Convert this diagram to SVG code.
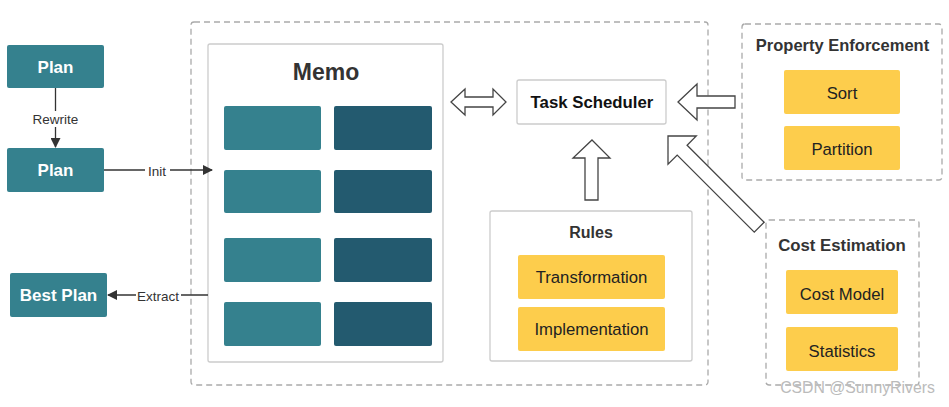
<svg xmlns="http://www.w3.org/2000/svg" width="949" height="407" viewBox="0 0 949 407">
<defs>
<style>
.plan{fill:#35818E;}
.pt{fill:#fff;font-family:"Liberation Sans",Arial,sans-serif;font-weight:bold;font-size:17px;text-anchor:middle;}
.lbl{fill:#333;font-family:"Liberation Sans",Arial,sans-serif;font-size:13.5px;text-anchor:middle;}
.dash{fill:none;stroke:#aaa;stroke-width:1.3;stroke-dasharray:6 4;}
.box{fill:#fff;stroke:#ccc;stroke-width:1.3;}
.title{fill:#333;font-family:"Liberation Sans",Arial,sans-serif;font-weight:bold;font-size:16.5px;text-anchor:middle;}
.yel{fill:#FDCD4C;}
.yt{fill:#222;font-family:"Liberation Sans",Arial,sans-serif;font-size:16.7px;text-anchor:middle;}
.c1{fill:#35818E;}
.c2{fill:#235A6F;}
.line{stroke:#333;stroke-width:1.3;fill:none;}
.blk{fill:#fff;stroke:#444;stroke-width:1.3;stroke-linejoin:miter;}
</style>
<marker id="ah" markerWidth="10" markerHeight="10" refX="9" refY="5" orient="auto" markerUnits="userSpaceOnUse">
<path d="M0,0 L10,5 L0,10 z" fill="#333"/>
</marker>
</defs>
<rect width="949" height="407" fill="#fff"/>

<rect class="dash" x="191" y="22" width="517" height="363" rx="3"/>

<g id="plan1"><rect class="plan" x="7" y="45" width="97" height="43" rx="2"/><text class="pt" x="55.5" y="72.5">Plan</text></g>
<g id="plan2"><rect class="plan" x="7" y="148" width="97" height="44" rx="2"/><text class="pt" x="55.5" y="176">Plan</text></g>
<g id="bestplan"><rect class="plan" x="10" y="273" width="97" height="44" rx="2"/><text class="pt" x="58.5" y="301">Best Plan</text></g>

<g id="memo">
<rect class="box" x="208" y="44" width="235" height="318" rx="2"/>
<text class="title" x="326" y="80" style="font-size:23px">Memo</text>
<rect class="c1" x="224" y="106" width="97" height="44" rx="2"/><rect class="c2" x="334" y="106" width="98" height="44" rx="2"/>
<rect class="c1" x="224" y="170" width="97" height="43" rx="2"/><rect class="c2" x="334" y="170" width="98" height="43" rx="2"/>
<rect class="c1" x="224" y="238" width="97" height="44" rx="2"/><rect class="c2" x="334" y="238" width="98" height="44" rx="2"/>
<rect class="c1" x="224" y="302" width="97" height="44" rx="2"/><rect class="c2" x="334" y="302" width="98" height="44" rx="2"/>
</g>

<g id="scheduler"><rect class="box" x="517" y="80" width="149" height="44" rx="2"/><text class="title" x="592" y="108" style="font-size:16.8px;fill:#111">Task Scheduler</text></g>

<g id="rules">
<rect class="box" x="490" y="211" width="202" height="150" rx="2"/>
<text class="title" x="591" y="238" style="font-size:16px">Rules</text>
<rect class="yel" x="518" y="255" width="147" height="44" rx="2"/><text class="yt" x="591.5" y="283">Transformation</text>
<rect class="yel" x="518" y="307" width="147" height="44" rx="2"/><text class="yt" x="591.5" y="335">Implementation</text>
</g>

<g id="property">
<rect class="dash" x="742" y="24" width="200" height="156" rx="3"/>
<text class="title" x="842.5" y="51">Property Enforcement</text>
<rect class="yel" x="784" y="70" width="116" height="44" rx="2"/><text class="yt" x="842" y="99">Sort</text>
<rect class="yel" x="784" y="126" width="116" height="44" rx="2"/><text class="yt" x="842" y="155">Partition</text>
</g>

<g id="cost">
<rect class="dash" x="766" y="220" width="153" height="165" rx="3"/>
<text class="title" x="842" y="251" style="font-size:16.8px">Cost Estimation</text>
<rect class="yel" x="786" y="270" width="112" height="44" rx="2"/><text class="yt" x="842" y="300">Cost Model</text>
<rect class="yel" x="786" y="327" width="112" height="44" rx="2"/><text class="yt" x="842" y="357">Statistics</text>
</g>

<g id="connectors">
<line class="line" x1="55.5" y1="88" x2="55.5" y2="147" marker-end="url(#ah)"/>
<rect x="30" y="111" width="51" height="16" fill="#fff"/>
<text class="lbl" x="55.5" y="124">Rewrite</text>
<line class="line" x1="104" y1="170" x2="212" y2="170" marker-end="url(#ah)"/>
<rect x="145" y="163" width="25" height="15" fill="#fff"/>
<text class="lbl" x="157" y="176">Init</text>
<line class="line" x1="208" y1="295" x2="108" y2="295" marker-end="url(#ah)"/>
<rect x="136" y="288" width="45" height="15" fill="#fff"/>
<text class="lbl" x="158" y="301">Extract</text>

<polygon class="blk" points="451,102 465,89 465,97 493,97 493,89 506,102 493,115 493,107 465,107 465,115"/>
<polygon class="blk" points="678,102 697,84 697,96 735,96 735,108 697,108 697,120"/>
<polygon class="blk" points="592,140 610,158 598,158 598,200 585,200 585,158 573,158"/>
<polygon class="blk" transform="translate(668,136) rotate(225)" points="0,0 -20,-20 -20,-7 -129,-7 -129,7 -20,7 -20,20"/>
</g>

<text x="857.5" y="393" style="fill:#bbb;font-family:'Liberation Sans',Arial,sans-serif;font-size:15.8px;text-anchor:middle">CSDN @SunnyRivers</text>
</svg>
